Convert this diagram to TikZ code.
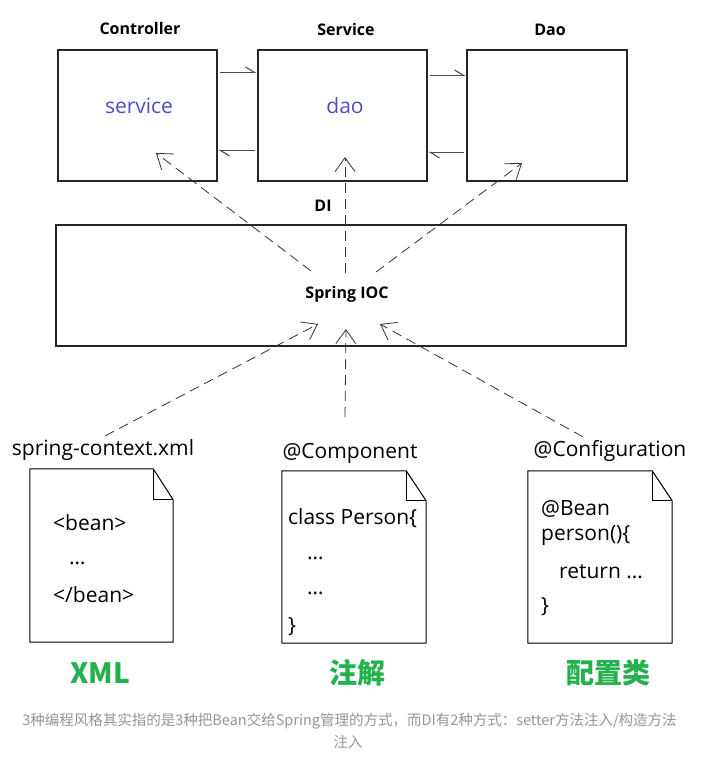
\documentclass[tikz,border=0pt]{standalone}
\usepackage{fontspec}
\setmainfont{Open Sans}
\newfontfamily\cjk{Noto Sans CJK SC}
\usetikzlibrary{arrows.meta}

\definecolor{fieldblue}{RGB}{78,78,196}
\definecolor{stylegreen}{RGB}{34,177,76}
\definecolor{notegray}{RGB}{150,150,150}

\begin{document}
\begin{tikzpicture}[x=1pt,y=1pt,
  layer/.style={draw=black!85,line width=1.1pt,inner sep=0pt},
  hdr/.style={font=\fontsize{16}{19}\selectfont\bfseries},
  field/.style={text=fieldblue,font=\fontsize{21}{25}\selectfont},
  doclbl/.style={font=\fontsize{21}{25}\selectfont},
  code/.style={anchor=west,inner sep=0pt,font=\fontsize{21}{25}\selectfont},
  kind/.style={text=stylegreen,font=\cjk\bfseries\fontsize{28}{32}\selectfont},
  note/.style={text=notegray,font=\cjk\fontsize{14.5}{17}\selectfont},
  flow/.style={draw=black!70,line width=1.1pt,shorten <=2pt,shorten >=1pt,
    -{Straight Barb[harpoon,length=9pt,width=11pt]}},
  inject/.style={draw=black!80,line width=0.8pt,dash pattern=on 10pt off 6pt,
    -{Straight Barb[length=14pt,width=20pt]}}]
\useasboundingbox (0,0) rectangle (704,-762);
\fill[white] (0,0) rectangle (704,-762);

% three layers
\node[layer,minimum width=159,minimum height=131] (ctrl) at (137.5,-115.5) {};
\node[layer,minimum width=169,minimum height=131] (srv) at (342.5,-115.5) {};
\node[layer,minimum width=160,minimum height=131] (dao) at (547,-115.5) {};
\node[hdr] (ctrllbl) at (140,-29) {Controller};
\node[hdr] (srvlbl) at (346,-30) {Service};
\node[hdr] (daolbl) at (550,-30) {Dao};
\node[field] (svcfield) at (139,-106) {service};
\node[field] (daofield) at (345,-106) {dao};

\draw[flow] ([yshift=-23pt]ctrl.north east) -- ([yshift=-23pt]srv.north west);
\draw[flow] ([yshift=-101pt]srv.north west) -- ([yshift=-101pt]ctrl.north east);
\draw[flow] ([yshift=-26pt]srv.north east) -- ([yshift=-26pt]dao.north west);
\draw[flow] ([yshift=-103pt]dao.north west) -- ([yshift=-103pt]srv.north east);

% container
\node[layer,minimum width=570,minimum height=121] (ioc) at (341,-285.5) {};
\node[hdr] (ioclbl) at (347,-294) {Spring IOC};
\node[hdr] (dilbl) at (323,-206) {DI};

\coordinate (diL) at (311,-271);
\coordinate (diM) at (345,-273);
\coordinate (diR) at (376,-272);
\coordinate (ctrlin) at (156,-153);
\coordinate (srvin) at (345,-157);
\coordinate (daoin) at (522,-163);
\draw[inject] (diL) -- (ctrlin);
\draw[inject] (diM) -- (srvin);
\draw[inject] (diR) -- (daoin);

% three styles
\node[doclbl] (xmllbl) at (103,-450) {spring-context.xml};
\node[doclbl] (complbl) at (350,-453) {@Component};
\node[doclbl] (cfglbl) at (610,-451) {@Configuration};

\node[minimum width=143,minimum height=173,inner sep=0pt] (xmldoc) at (101.5,-555.5) {};
\node[minimum width=144,minimum height=172,inner sep=0pt] (compdoc) at (354,-557) {};
\node[minimum width=144,minimum height=172,inner sep=0pt] (cfgdoc) at (600,-557) {};
\draw[line width=1pt] (xmldoc.north west) -- ([xshift=-20pt]xmldoc.north east) -- ([yshift=-31pt]xmldoc.north east) -- (xmldoc.south east) -- (xmldoc.south west) -- cycle;
\draw[line width=1pt] ([xshift=-20pt]xmldoc.north east) -- ([xshift=-20pt,yshift=-31pt]xmldoc.north east) -- ([yshift=-31pt]xmldoc.north east);
\draw[line width=1pt] (compdoc.north west) -- ([xshift=-20pt]compdoc.north east) -- ([yshift=-30pt]compdoc.north east) -- (compdoc.south east) -- (compdoc.south west) -- cycle;
\draw[line width=1pt] ([xshift=-20pt]compdoc.north east) -- ([xshift=-20pt,yshift=-30pt]compdoc.north east) -- ([yshift=-30pt]compdoc.north east);
\draw[line width=1pt] (cfgdoc.north west) -- ([xshift=-20pt]cfgdoc.north east) -- ([yshift=-30pt]cfgdoc.north east) -- (cfgdoc.south east) -- (cfgdoc.south west) -- cycle;
\draw[line width=1pt] ([xshift=-20pt]cfgdoc.north east) -- ([xshift=-20pt,yshift=-30pt]cfgdoc.north east) -- ([yshift=-30pt]cfgdoc.north east);

\node[code] (xml1) at (53,-523) {<bean>};
\node[code] (xml2) at (69,-563) {…};
\node[code] (xml3) at (53,-595) {</bean>};
\node[code] (comp1) at (288,-518) {class Person\{};
\node[code] (comp2) at (307,-558) {…};
\node[code] (comp3) at (307,-593) {…};
\node[code] (comp4) at (288,-627) {\}};
\node[code] (cfg1) at (541,-509) {@Bean};
\node[code] (cfg2) at (541,-536) {person()\{};
\node[code] (cfg3) at (559,-572) {return …};
\node[code] (cfg4) at (541,-607) {\}};

\coordinate (compup) at (345,-417);
\coordinate (iocL) at (318,-324);
\coordinate (iocM) at (346,-329);
\coordinate (iocR) at (380,-324);
\draw[inject] ([xshift=2pt]xmllbl.north) -- (iocL);
\draw[inject] (compup) -- (iocM);
\draw[inject] ([xshift=-27pt]cfglbl.north) -- (iocR);

\node[kind] (xmlkind) at (100,-673) {XML};
\node[kind] (compkind) at (357,-673) {注解};
\node[kind] (cfgkind) at (608,-673) {配置类};

\node[note] (note1) at (349.5,-721) {3种编程风格其实指的是3种把Bean交给Spring管理的方式，而DI有2种方式：setter方法注入/构造方法};
\node[note] (note2) at (348,-742) {注入};
\end{tikzpicture}
\end{document}
